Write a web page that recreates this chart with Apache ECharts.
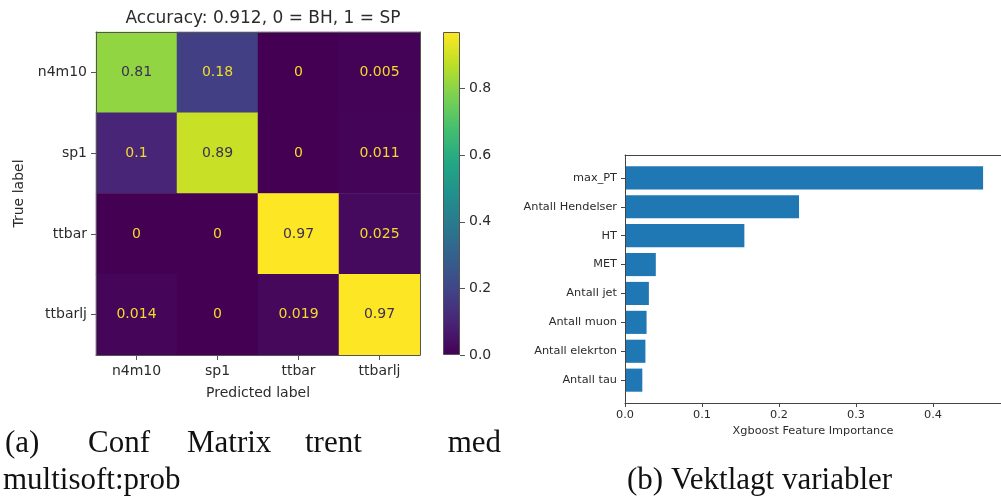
<!DOCTYPE html>
<html>
<head>
<meta charset="utf-8">
<script src="https://cdn.jsdelivr.net/npm/echarts@6/dist/echarts.min.js"></script>
<style>
  html, body { margin: 0; padding: 0; background: #ffffff; }
  #chart { width: 1001px; height: 498px; }
</style>
</head>
<body>
<div id="chart"></div>
<script>
// Confusion matrix (row-normalised), true label by row, predicted label by column
const classLabels = ['n4m10', 'sp1', 'ttbar', 'ttbarlj'];
const confRows = [
  [0.81, 0.18, 0, 0.005],
  [0.1, 0.89, 0, 0.011],
  [0, 0, 0.97, 0.025],
  [0.014, 0, 0.019, 0.97]
];
const colorbarTicks = [0, 0.2, 0.4, 0.6, 0.8];

// XGBoost feature importances, listed top to bottom
const featureNames = ['max_PT', 'Antall Hendelser', 'HT', 'MET', 'Antall jet', 'Antall muon', 'Antall elekrton', 'Antall tau'];
const featureImportance = [0.465, 0.226, 0.155, 0.040, 0.031, 0.028, 0.0265, 0.0225];
const importanceTicks = [0, 0.1, 0.2, 0.3, 0.4];

const viridis = ['#440154', '#482475', '#414487', '#355f8d', '#2a788e', '#21918c',
                 '#22a884', '#44bf70', '#7ad151', '#bddf26', '#fde725'];

const vmax = Math.max(...confRows.flat());
const impMax = Math.max(...featureImportance) * 1.05;

const SANS = 'DejaVu Sans';
const SERIF = '31px "Liberation Serif"';
const TXT = '#2b2b2b';
const SPINE = '#555555';

const heatData = [];
confRows.forEach((row, r) => row.forEach((v, c) => {
  heatData.push({
    value: [c, r, v],
    label: { color: v > vmax / 2 ? '#3b2f55' : '#f0dc2a' }
  });
}));

const chart = echarts.init(document.getElementById('chart'), null, { renderer: 'canvas' });

const lineOnly = (extra) => Object.assign({
  axisLine: { show: true, lineStyle: { color: SPINE, width: 1 } },
  axisTick: { show: false },
  axisLabel: { show: false },
  splitLine: { show: false },
  z: 5
}, extra);

chart.setOption({
  animation: false,
  backgroundColor: '#ffffff',
  textStyle: { fontFamily: SANS },
  title: {
    text: 'Accuracy: 0.912, 0 = BH, 1 = SP',
    left: 258, top: 5, textAlign: 'center',
    textStyle: { fontFamily: SANS, fontSize: 17, fontWeight: 'normal', color: TXT }
  },
  grid: [
    { left: 96, top: 32, width: 324, height: 323 },      // confusion matrix
    { left: 443, top: 32, width: 17, height: 323 },      // colour bar
    { left: 625, top: 155, width: 381, height: 248 },    // importance frame
    { left: 625, top: 163.4, width: 381, height: 231.2 } // importance bars
  ],
  visualMap: {
    type: 'continuous', show: false, min: 0, max: vmax,
    seriesIndex: 0, dimension: 2,
    inRange: { color: viridis }
  },
  xAxis: [
    { // 0: matrix bottom
      gridIndex: 0, type: 'category', data: classLabels, position: 'bottom',
      name: 'Predicted label', nameLocation: 'middle', nameGap: 31,
      nameTextStyle: { fontFamily: SANS, fontSize: 14, color: TXT },
      axisLine: { show: true, lineStyle: { color: SPINE } },
      axisTick: { show: true, alignWithLabel: true, length: 5, lineStyle: { color: SPINE } },
      axisLabel: { fontFamily: SANS, fontSize: 14, color: TXT, margin: 9 },
      splitLine: { show: false }, z: 5
    },
    lineOnly({ gridIndex: 0, type: 'category', data: classLabels, position: 'top' }), // 1: matrix top
    { // 2: colour bar
      gridIndex: 1, type: 'category', data: [''], show: false
    },
    { // 3: importance axis
      gridIndex: 2, type: 'value', min: 0, max: impMax, interval: 0.1, position: 'bottom',
      name: 'Xgboost Feature Importance', nameLocation: 'middle', nameGap: 23,
      nameTextStyle: { fontFamily: SANS, fontSize: 11.3, color: TXT },
      axisLine: { show: true, lineStyle: { color: '#444' } },
      axisTick: { show: true, length: 4, lineStyle: { color: '#444' }, customValues: importanceTicks },
      axisLabel: { fontFamily: SANS, fontSize: 11.3, color: TXT, margin: 7,
                   customValues: importanceTicks, formatter: v => v.toFixed(1) },
      splitLine: { show: false }, z: 5
    },
    lineOnly({ gridIndex: 2, type: 'value', min: 0, max: impMax, position: 'top',
               axisLine: { show: true, lineStyle: { color: '#444' } } }), // 4: top spine
    { // 5: bars
      gridIndex: 3, type: 'value', min: 0, max: impMax, show: false
    }
  ],
  yAxis: [
    { // 0: matrix left
      gridIndex: 0, type: 'category', data: classLabels, inverse: true,
      name: 'True label', nameLocation: 'middle', nameGap: 70, nameRotate: 90,
      nameTextStyle: { fontFamily: SANS, fontSize: 14, color: TXT },
      axisLine: { show: true, lineStyle: { color: SPINE } },
      axisTick: { show: true, alignWithLabel: true, length: 5, lineStyle: { color: SPINE } },
      axisLabel: { fontFamily: SANS, fontSize: 14, color: TXT, margin: 9 },
      splitLine: { show: false }, z: 5
    },
    lineOnly({ gridIndex: 0, type: 'category', data: classLabels, inverse: true, position: 'right' }), // 1
    { // 2: colour bar scale
      gridIndex: 1, type: 'value', min: 0, max: vmax, position: 'right', interval: 0.2,
      axisLine: { show: false },
      axisTick: { show: true, length: 5, lineStyle: { color: SPINE }, customValues: colorbarTicks },
      axisLabel: { fontFamily: SANS, fontSize: 14, color: TXT, margin: 9,
                   customValues: colorbarTicks, formatter: v => v.toFixed(1) },
      splitLine: { show: false }
    },
    lineOnly({ gridIndex: 2, type: 'value', min: 0, max: 1,
               axisLine: { show: true, lineStyle: { color: '#444' } } }), // 3: left spine
    { // 4: feature names
      gridIndex: 3, type: 'category', data: featureNames, inverse: true,
      axisLine: { show: false },
      axisTick: { show: true, alignWithLabel: true, length: 4, lineStyle: { color: '#444' } },
      axisLabel: { fontFamily: SANS, fontSize: 11.3, color: TXT, margin: 8 },
      splitLine: { show: false }
    }
  ],
  series: [
    {
      type: 'heatmap', xAxisIndex: 0, yAxisIndex: 0,
      data: heatData,
      itemStyle: { borderWidth: 0 },
      label: { show: true, fontFamily: SANS, fontSize: 14, formatter: p => String(p.value[2]) },
      emphasis: { disabled: true }
    },
    {
      type: 'bar', xAxisIndex: 2, yAxisIndex: 2,
      data: [vmax], barWidth: '100%',
      itemStyle: {
        borderColor: SPINE, borderWidth: 1,
        color: new echarts.graphic.LinearGradient(0, 1, 0, 0,
          viridis.map((c, i) => ({ offset: i / (viridis.length - 1), color: c })))
      },
      silent: true
    },
    {
      type: 'bar', xAxisIndex: 5, yAxisIndex: 4,
      data: featureImportance, barWidth: '80%',
      itemStyle: { color: '#1f77b4' },
      silent: true
    }
  ],
  graphic: [
    { type: 'text', left: 5, top: 428, style: { text: '(a)', font: SERIF, fill: '#111' } },
    { type: 'text', left: 88, top: 428, style: { text: 'Conf', font: SERIF, fill: '#111' } },
    { type: 'text', left: 187, top: 428, style: { text: 'Matrix', font: SERIF, fill: '#111' } },
    { type: 'text', left: 305, top: 428, style: { text: 'trent', font: SERIF, fill: '#111' } },
    { type: 'text', right: 500, top: 428, style: { text: 'med', font: SERIF, fill: '#111' } },
    { type: 'text', left: 3, top: 465, style: { text: 'multisoft:prob', font: SERIF, fill: '#111' } },
    { type: 'text', left: 627, top: 465, style: { text: '(b) Vektlagt variabler', font: SERIF, fill: '#111' } }
  ]
});
</script>
</body>
</html>
